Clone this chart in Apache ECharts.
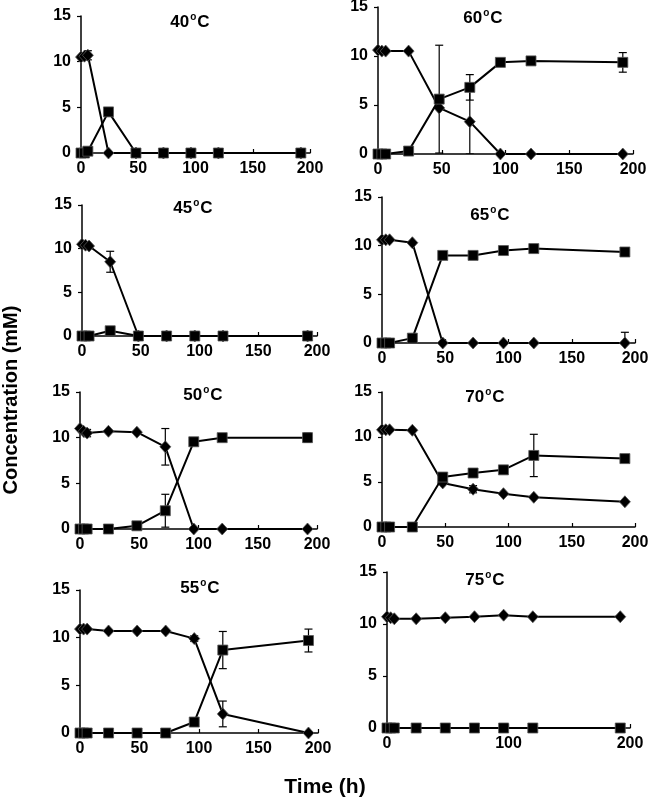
<!DOCTYPE html>
<html>
<head>
<meta charset="utf-8">
<script src="https://cdn.jsdelivr.net/npm/echarts@6/dist/echarts.min.js"></script>
<style>html,body{margin:0;padding:0;background:#fff}#c{width:650px;height:802px}</style>
</head>
<body>
<div id="c"></div>
<script>
// ---- data ----
const times = [0, 3, 6, 24, 48, 72, 96, 120, 192];
const temps = ['40', '60', '45', '65', '50', '70', '55', '75'];
const yTicks = [0, 5, 10, 15];

// diamond series (substrate) and square series (product), mM
const s40 = [10.5, 10.6, 10.7, 0, 0, 0, 0, 0, 0];
const p40 = [0, 0, 0.2, 4.5, 0, 0, 0, 0, 0];
const s60 = [10.6, 10.5, 10.5, 10.5, 4.7, 3.3, 0, 0, 0];
const p60 = [0, 0, 0, 0.3, 5.6, 6.8, 9.35, 9.5, 9.35];
const s45 = [10.5, 10.4, 10.3, 8.5, 0, 0, 0, 0, 0];
const p45 = [0, 0, 0, 0.6, 0, 0, 0, 0, 0];
const s65 = [10.6, 10.6, 10.6, 10.3, 0, 0, 0, 0, 0];
const p65 = [0, 0, 0, 0.5, 9.0, 9.0, 9.5, 9.7, 9.35];
const s50 = [11.0, 10.7, 10.5, 10.7, 10.6, 9.0, 0, 0, 0];
const p50 = [0, 0, 0, 0, 0.35, 2.0, 9.55, 10.0, 10.0];
const s70 = [10.8, 10.8, 10.8, 10.75, 4.9, 4.2, 3.7, 3.3, 2.8];
const p70 = [0, 0, 0, 0, 5.55, 6.0, 6.35, 7.95, 7.6];
const s55 = [10.9, 10.9, 10.9, 10.7, 10.7, 10.7, 9.9, 2.0, 0];
const p55 = [0, 0, 0, 0, 0, 0, 1.15, 8.7, 9.7];
const s75 = [10.7, 10.6, 10.5, 10.5, 10.6, 10.7, 10.85, 10.7, 10.7];
const p75 = [0, 0, 0, 0, 0, 0, 0, 0, 0];

// error bars: [time, mean, sd]
const e40 = [[6, 10.7, 0.5]];
const e60 = [[48, 5.6, 5.5], [72, 6.8, 1.3], [72, 3.3, 3.3], [192, 9.35, 1.0]];
const e45 = [[24, 8.5, 1.2]];
const e65 = [[192, 0, 1.1]];
const e50 = [[6, 10.5, 0.4], [72, 9.0, 2.0], [72, 2.0, 1.8], [192, 10.0, 0.5]];
const e70 = [[72, 4.2, 0.4], [120, 7.95, 2.35]];
const e55 = [[96, 9.9, 0.3], [120, 2.0, 1.35], [120, 8.7, 1.95], [192, 9.7, 1.2]];
const e75 = [];

const subs = [s40, s60, s45, s65, s50, s70, s55, s75];
const prods = [p40, p60, p45, p65, p50, p70, p55, p75];
const errs = [e40, e60, e45, e65, e50, e70, e55, e75];
const xIntervals = [50, 50, 50, 50, 50, 50, 50, 100];

// ---- layout ----
const gridBoxes = [
  [81, 16, 229, 137],
  [378, 7, 255, 147],
  [82, 205, 235, 131],
  [382, 197, 253, 146],
  [80, 392, 237, 137],
  [382, 392, 253, 135],
  [80, 590, 238, 143],
  [387, 572, 243, 156]
];
const titlePos = [[190, 22], [483, 18], [193, 208], [490, 215], [203, 395], [485, 397], [200, 588], [485, 580]];
const FONT = '"Liberation Sans", Arial, sans-serif';

const grid = [], xAxis = [], yAxis = [], series = [], graphic = [];
gridBoxes.forEach((b, i) => {
  grid.push({left: b[0], top: b[1], width: b[2], height: b[3], outerBoundsMode: 'none', containLabel: false});
  xAxis.push({
    type: 'value', gridIndex: i, min: 0, max: 200, interval: xIntervals[i],
    axisLine: {show: true, onZero: false, lineStyle: {color: '#000', width: 1.5}},
    axisTick: {show: true, inside: true, length: 4, lineStyle: {color: '#000', width: 1.2}},
    axisLabel: {color: '#000', fontFamily: FONT, fontWeight: 'bold', fontSize: 16, margin: 8},
    splitLine: {show: false}
  });
  yAxis.push({
    type: 'value', gridIndex: i, min: yTicks[0], max: yTicks[yTicks.length - 1], interval: 5,
    axisLine: {show: true, onZero: false, lineStyle: {color: '#000', width: 1.5}},
    axisTick: {show: true, inside: false, length: 4, lineStyle: {color: '#000', width: 1.2}},
    axisLabel: {color: '#000', fontFamily: FONT, fontWeight: 'bold', fontSize: 16, margin: 10},
    splitLine: {show: false}
  });
  series.push({
    type: 'custom', xAxisIndex: i, yAxisIndex: i, clip: true, z: 1,
    data: errs[i],
    renderItem: function (params, api) {
      const x = api.value(0), y = api.value(1), e = api.value(2);
      const t = api.coord([x, y + e]), bt = api.coord([x, y - e]);
      const cw = 4;
      const st = {stroke: '#000', lineWidth: 1.2};
      return {type: 'group', children: [
        {type: 'line', shape: {x1: t[0], y1: t[1], x2: bt[0], y2: bt[1]}, style: st},
        {type: 'line', shape: {x1: t[0] - cw, y1: t[1], x2: t[0] + cw, y2: t[1]}, style: st},
        {type: 'line', shape: {x1: bt[0] - cw, y1: bt[1], x2: bt[0] + cw, y2: bt[1]}, style: st}
      ]};
    }
  });
  series.push({
    type: 'line', xAxisIndex: i, yAxisIndex: i, z: 3,
    data: times.map((t, k) => [t, subs[i][k]]),
    symbol: 'diamond', symbolSize: [11, 12], showAllSymbol: true,
    itemStyle: {color: '#000', borderColor: '#555', borderWidth: 0.8},
    lineStyle: {color: '#000', width: 2}, animation: false
  });
  series.push({
    type: 'line', xAxisIndex: i, yAxisIndex: i, z: 4,
    data: times.map((t, k) => [t, prods[i][k]]),
    symbol: 'rect', symbolSize: 10, showAllSymbol: true,
    itemStyle: {color: '#000', borderColor: '#555', borderWidth: 0.8},
    lineStyle: {color: '#000', width: 2}, animation: false
  });
  graphic.push({
    type: 'text', x: titlePos[i][0], y: titlePos[i][1],
    style: {
      text: '{a|' + temps[i] + '}{b|o}{a|C}',
      align: 'center', verticalAlign: 'middle',
      rich: {
        a: {fontFamily: FONT, fontWeight: 'bold', fontSize: 17, fill: '#000', lineHeight: 20},
        b: {fontFamily: FONT, fontWeight: 'bold', fontSize: 10, fill: '#000', verticalAlign: 'top', padding: [0, 1, 9, 1]}
      }
    }
  });
});

graphic.push({
  type: 'text', x: 11, y: 400, rotation: Math.PI / 2,
  style: {text: 'Concentration (mM)', align: 'center', verticalAlign: 'middle',
    font: 'bold 20px ' + FONT, fill: '#000'}
});
graphic.push({
  type: 'text', x: 325, y: 787,
  style: {text: 'Time (h)', align: 'center', verticalAlign: 'middle',
    font: 'bold 21px ' + FONT, fill: '#000'}
});

const chart = echarts.init(document.getElementById('c'), null, {renderer: 'canvas'});
chart.setOption({animation: false, grid, xAxis, yAxis, series, graphic});
</script>
</body>
</html>
